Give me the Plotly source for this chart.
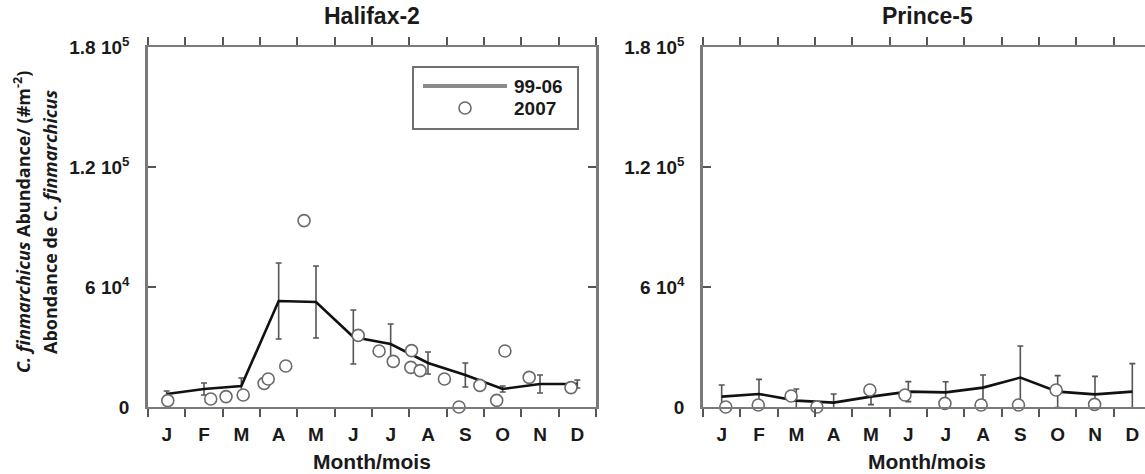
import plotly.graph_objects as go

# ---------------- data ----------------
months = ["J", "F", "M", "A", "M", "J", "J", "A", "S", "O", "N", "D"]
month_centers = [0.5, 1.5, 2.5, 3.5, 4.5, 5.5, 6.5, 7.5, 8.5, 9.5, 10.5, 11.5]
month_edges = [0, 1, 2, 3, 4, 5, 6, 7, 8, 9, 10, 11, 12]

y_tickvals = [0, 60000, 120000, 180000]
y_ticktext = ["0", "6 10<sup>4</sup>", "1.2 10<sup>5</sup>", "1.8 10<sup>5</sup>"]

hal_mean = [6500, 9000, 10500, 53000, 52500, 35000, 31500, 22000, 16000, 9000, 11500, 11500]
hal_err = [1500, 3000, 4000, 19000, 18000, 13500, 10000, 5500, 6000, 1500, 4500, 2000]
hal_2007_x = [0.53, 1.68, 2.09, 2.55, 3.11, 3.22, 3.69, 4.18, 5.63, 6.19, 6.57,
              7.06, 7.04, 7.29, 7.94, 8.33, 8.89, 9.34, 9.56, 10.21, 11.33]
hal_2007_y = [3200, 4000, 5200, 6000, 11800, 14000, 20500, 93200, 35800, 28000, 22800,
              28200, 19800, 18200, 14000, 0, 10800, 3300, 28000, 14800, 9700]

pr_mean = [5200, 6500, 3200, 2200, 5200, 7700, 7300, 9700, 14700, 7700, 6300, 7700]
pr_err = [5800, 7300, 5800, 4300, 4000, 5000, 5300, 6300, 15800, 8000, 9000, 14000]
pr_2007_x = [0.61, 1.48, 2.36, 3.05, 4.47, 5.41, 6.48, 7.45, 8.45, 9.46, 10.49]
pr_2007_y = [0, 1000, 5500, 0, 8500, 6000, 1800, 1000, 1000, 8500, 1300]

panel_titles = ["Halifax-2", "Prince-5"]
legend_labels = ["99-06", "2007"]
x_title = "Month/mois"
y_title_1 = "<i>C. finmarchicus</i> Abundance/ (#m<sup>-2</sup>)"
y_title_2 = "Abondance de C. <i>finmarchicus</i>"

# ---------------- layout helpers ----------------
W, H = 1145, 474
def px(x):
    return x / W
def py(y):
    return 1 - y / H

LEFT = (148, 596)
RIGHT = (703, 1145)
TOP, BOTTOM = 47, 407
month_px = (LEFT[1] - LEFT[0]) / 12.0
right_range_end = (RIGHT[1] - RIGHT[0]) / month_px

FONT = "Liberation Sans, Arial, sans-serif"
TXT = "#1a1a1a"
AXC = "#7a7a7a"

fig = go.Figure()

def add_panel(xa, ya, mean, err, sx, sy):
    fig.add_trace(go.Scatter(
        x=month_centers, y=mean, mode="lines", xaxis=xa, yaxis=ya,
        line=dict(color="#111111", width=2.6),
        error_y=dict(type="data", array=err, visible=True, color="#555555",
                     thickness=1.6, width=3),
        showlegend=False, cliponaxis=True))
    fig.add_trace(go.Scatter(
        x=sx, y=sy, mode="markers", xaxis=xa, yaxis=ya,
        marker=dict(symbol="circle", size=12, color="white",
                    line=dict(color="#6a6a6a", width=1.6)),
        showlegend=False, cliponaxis=False))

add_panel("x", "y", hal_mean, hal_err, hal_2007_x, hal_2007_y)
add_panel("x2", "y2", pr_mean, pr_err, pr_2007_x, pr_2007_y)

def xaxis_cfg(domain, rng):
    return dict(
        domain=domain, range=rng, showgrid=False, zeroline=False, automargin=False,
        showline=True, linecolor=AXC, linewidth=2, mirror="ticks",
        tickmode="array", tickvals=month_centers, ticktext=months, ticks="",
        tickfont=dict(family=FONT, size=19, color=TXT, weight="bold"),
        ticklabelstandoff=9,
        minor=dict(tickmode="array", tickvals=month_edges, ticks="outside",
                   ticklen=8, tickwidth=1.5, tickcolor="#555555", showgrid=False),
        fixedrange=True)

def yaxis_cfg(anchor, mirror, showlabels=True):
    return dict(
        domain=[py(BOTTOM), py(TOP)], range=[0, 180000], anchor=anchor,
        showgrid=False, zeroline=False, showline=True, linecolor=AXC, automargin=False,
        linewidth=2.5, mirror=mirror,
        tickmode="array", tickvals=y_tickvals, ticktext=y_ticktext,
        ticks="inside", ticklen=8, tickwidth=1.5, tickcolor="#555555",
        tickfont=dict(family=FONT, size=19, color=TXT, weight="bold"),
        ticklabelstandoff=12, showticklabels=showlabels, fixedrange=True)

fig.update_layout(
    width=W, height=H, margin=dict(l=0, r=0, t=0, b=0, autoexpand=False),
    paper_bgcolor="white", plot_bgcolor="white", showlegend=False,
    xaxis=xaxis_cfg([px(LEFT[0]), px(LEFT[1])], [0, 12]) | dict(anchor="y"),
    yaxis=yaxis_cfg("x", "ticks"),
    xaxis2=xaxis_cfg([px(RIGHT[0]), px(RIGHT[1])], [0, right_range_end]) | dict(anchor="y2"),
    yaxis2=yaxis_cfg("x2", False),
)

ann = []
left_c = (LEFT[0] + LEFT[1]) / 2
right_c = RIGHT[0] + 6 * month_px
for xc, t in [(left_c, panel_titles[0]), (right_c, panel_titles[1])]:
    ann.append(dict(x=px(xc), y=py(16), xref="paper", yref="paper", text="<b>%s</b>" % t,
                    showarrow=False, xanchor="center", yanchor="middle",
                    font=dict(family=FONT, size=23, color=TXT)))
    ann.append(dict(x=px(xc), y=py(461), xref="paper", yref="paper", text="<b>%s</b>" % x_title,
                    showarrow=False, xanchor="center", yanchor="middle",
                    font=dict(family=FONT, size=21, color=TXT)))

for xc, t in [(22, y_title_1), (50, y_title_2)]:
    ann.append(dict(x=px(xc), y=py(222), xref="paper", yref="paper", text="<b>%s</b>" % t,
                    showarrow=False, xanchor="center", yanchor="middle", textangle=-90,
                    font=dict(family="Open Sans, sans-serif", size=18, color=TXT)))

# legend (drawn in the left panel)
ann.append(dict(x=px(512), y=py(87), xref="paper", yref="paper", text="<b>%s</b>" % legend_labels[0],
                showarrow=False, xanchor="left", yanchor="middle",
                font=dict(family=FONT, size=19, color=TXT)))
ann.append(dict(x=px(512), y=py(109), xref="paper", yref="paper", text="<b>%s</b>" % legend_labels[1],
                showarrow=False, xanchor="left", yanchor="middle",
                font=dict(family=FONT, size=19, color=TXT)))

shapes = [
    dict(type="rect", xref="paper", yref="paper", x0=px(413), x1=px(578), y0=py(129), y1=py(67),
         line=dict(color="#707070", width=2), fillcolor="white", layer="below"),
    dict(type="line", xref="paper", yref="paper", x0=px(423), x1=px(507), y0=py(86), y1=py(86),
         line=dict(color="#8a8a8a", width=4)),
    dict(type="circle", xref="paper", yref="paper", x0=px(459), x1=px(471), y0=py(114), y1=py(102),
         line=dict(color="#6a6a6a", width=1.6), fillcolor="white"),
]
fig.update_layout(annotations=ann, shapes=shapes)

fig.write_html(
    "out.html",
    config={"displayModeBar": False},
    post_script="document.body.style.margin='0';document.body.style.overflow='hidden';",
)
